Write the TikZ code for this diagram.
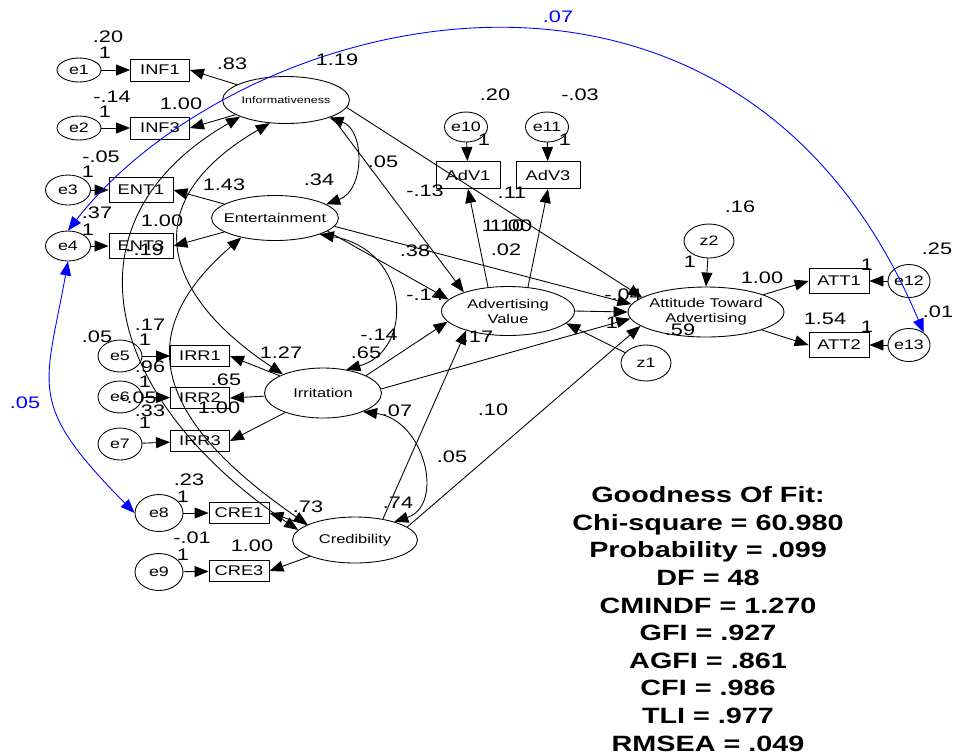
\documentclass[tikz,border=0pt]{standalone}
\usepackage{fontspec}
\setmainfont{Liberation Sans}[FakeStretch=1.3]
\usetikzlibrary{arrows.meta,shapes.geometric}
\begin{document}
\begin{tikzpicture}[x=0.02cm,y=-0.02cm,>={Triangle[length=2.8mm,width=2.2mm]},
  line width=0.5pt,line join=round,
  obs/.style={draw,rectangle,minimum width=1.18cm,minimum height=0.44cm,inner sep=0pt,font=\fontsize{8}{9}\selectfont},
  lat/.style={draw,ellipse,inner xsep=-0.2cm,inner ysep=0pt,align=center,font=\fontsize{7.2}{8.5}\selectfont},
  err/.style={draw,ellipse,minimum width=0.88cm,minimum height=0.6cm,inner sep=0pt,font=\fontsize{7.8}{9}\selectfont},
  est/.style={inner sep=0pt,font=\fontsize{9.5}{10}\selectfont},
  cov/.style={<->},
  bcov/.style={<->,blue}]
\useasboundingbox (0,0) rectangle (955,755);

% latent variables
\node[lat,minimum width=2.54cm,minimum height=0.94cm,font=\fontsize{5.5}{6}\selectfont] (inf) at (286,100) {Informativeness};
\node[lat,minimum width=2.54cm,minimum height=0.9cm] (ent) at (275,218) {Entertainment};
\node[lat,minimum width=2.34cm,minimum height=1cm] (irr) at (323,393) {Irritation};
\node[lat,minimum width=2.5cm,minimum height=0.92cm] (cred) at (355,540) {Credibility};
\node[lat,minimum width=2.66cm,minimum height=0.98cm] (adv) at (508,311) {Advertising\\Value};
\node[lat,minimum width=3.12cm,minimum height=1cm] (att) at (706,312) {Attitude Toward\\Advertising};

% indicators
\node[obs] (INF1) at (160,70) {INF1};
\node[obs] (INF3) at (160,128) {INF3};
\node[obs,minimum width=1.28cm,minimum height=0.5cm] (ENT1) at (141,190) {ENT1};
\node[obs,minimum width=1.28cm,minimum height=0.5cm] (ENT3) at (141,246) {ENT3};
\node[obs,minimum height=0.42cm] (IRR1) at (200,356) {IRR1};
\node[obs,minimum height=0.42cm] (IRR2) at (200,398) {IRR2};
\node[obs,minimum height=0.42cm] (IRR3) at (200,441) {IRR3};
\node[obs,minimum width=1.2cm,minimum height=0.42cm] (CRE1) at (239,513) {CRE1};
\node[obs,minimum width=1.2cm,minimum height=0.42cm] (CRE3) at (239,571) {CRE3};
\node[obs,minimum width=1.28cm,minimum height=0.54cm] (AdV1) at (468,175) {AdV1};
\node[obs,minimum width=1.28cm,minimum height=0.54cm] (AdV3) at (548,175) {AdV3};
\node[obs,minimum width=1.2cm,minimum height=0.5cm] (ATT1) at (839,281) {ATT1};
\node[obs,minimum width=1.2cm,minimum height=0.5cm] (ATT2) at (839,345) {ATT2};

% error terms
\node[err,minimum height=0.48cm] (e1) at (79,70) {e1};
\node[err,minimum height=0.48cm] (e2) at (79,128) {e2};
\node[err,minimum width=0.9cm] (e3) at (68,190) {e3};
\node[err,minimum width=0.9cm] (e4) at (68,246) {e4};
\node[err,minimum height=0.64cm] (e5) at (120,356) {e5};
\node[err,minimum height=0.64cm] (e6) at (120,397) {e6};
\node[err,minimum height=0.64cm] (e7) at (120,444) {e7};
\node[err,minimum width=0.96cm,minimum height=0.74cm] (e8) at (159,513) {e8};
\node[err,minimum width=0.96cm,minimum height=0.74cm] (e9) at (159,572) {e9};
\node[err,minimum width=0.86cm] (e10) at (466,127) {e10};
\node[err,minimum width=0.86cm] (e11) at (547,127) {e11};
\node[err,minimum width=0.84cm,minimum height=0.66cm] (e12) at (909,281) {e12};
\node[err,minimum width=0.84cm,minimum height=0.66cm] (e13) at (909,345) {e13};
\node[err,minimum width=1cm,minimum height=0.72cm] (z1) at (646,363) {z1};
\node[err,minimum width=1cm,minimum height=0.68cm] (z2) at (709,241) {z2};

% measurement part
\draw[->] (e1)--(INF1); \draw[->] (e2)--(INF3);
\draw[->] (e3)--(ENT1); \draw[->] (e4)--(ENT3);
\draw[->] (e5)--(IRR1); \draw[->] (e6)--(IRR2); \draw[->] (e7)--(IRR3);
\draw[->] (e8)--(CRE1); \draw[->] (e9)--(CRE3);
\draw[->] (e10)--(AdV1); \draw[->] (e11)--(AdV3);
\draw[->] (e12)--(ATT1); \draw[->] (e13)--(ATT2);
\draw[->] (inf)--(INF1.east); \draw[->] (inf)--(INF3.east);
\draw[->] (ent)--(ENT1.east); \draw[->] (ent)--(ENT3.east);
\draw[->] (irr)--(IRR1.east); \draw[->] (irr)--(IRR2.east); \draw[->] (irr)--(IRR3.east);
\draw[->] (cred)--(CRE1.east); \draw[->] (cred)--(CRE3.east);
\draw[->] (adv.130)--(AdV1.south); \draw[->] (adv.50)--(AdV3.south);
\draw[->] (att)--(ATT1.west); \draw[->] (att)--(ATT2.west);

% structural part
\draw[->] (inf.-20)--(adv.157);
\draw[->] (inf.-7)--(att.167);
\draw[->] (ent.-14)--(adv.169);
\draw[->] (ent.-8)--(att.174);
\draw[->] (irr.22)--(adv.190);
\draw[->] (irr.4)--(att.185);
\draw[->] (cred.37)--(adv.205);
\draw[->] (cred.14)--(att.192);
\draw[->] (adv.east)--(att.west);
\draw[->] (z1)--(adv.-12);
\draw[->] (z2)--(att.north);

% covariances
\draw[cov] (inf.-22) .. controls (365,130) and (365,190) .. (ent.15);
\draw[cov] (ent.-20) .. controls (410,250) and (415,350) .. (irr.45);
\draw[cov] (irr.-25) .. controls (425,420) and (445,505) .. (cred.25);
\draw[cov] (inf.200) .. controls (62,219) and (99,395) .. (cred.170);
\draw[cov] (inf.235) .. controls (131,204) and (166,297) .. (irr.155);
\draw[cov] (ent.210) .. controls (150,317) and (128,401) .. (cred.162);
\draw[bcov] (e4.north) .. controls (240,10) and (735,-117) .. (e13.40);
\draw[bcov] (e4.south) .. controls (45,389) and (26,403) .. (e8.west);

% estimates
\path (108,37) node[est] (ve1) {.20} (105,53) node[est] (fe1) {1}
  (232,64) node[est] (lINF1) {.83} (337,60) node[est] (vinf) {1.19}
  (112,97) node[est] (ve2) {-.14} (105,112) node[est] (fe2) {1}
  (181,104) node[est] (lINF3) {1.00};
\path (101,157) node[est] (ve3) {-.05} (88,172) node[est] (fe3) {1}
  (224,185) node[est] (lENT1) {1.43} (319,180) node[est] (cie) {.34}
  (97,213) node[est] (ve4) {.37} (88,230) node[est] (fe4) {1}
  (162,221) node[est] (lENT3) {1.00} (145,250) node[est] (vent) {-.19};
\path (97,337) node[est] (ve5) {.05} (150,325) node[est] (cic) {.17}
  (145,340) node[est] (fe5) {1} (150,367) node[est] (cii) {.96}
  (145,382) node[est] (fe6) {1} (138,398) node[est] (ve6) {-.05}
  (150,411) node[est] (cec) {.33} (145,423) node[est] (fe7) {1}
  (281,353) node[est] (lIRR1) {1.27} (226,380) node[est] (lIRR2) {.65}
  (219,408) node[est] (lIRR3) {1.00};
\path (189,480) node[est] (ve8) {.23} (183,497) node[est] (fe8) {1}
  (308,507) node[est] (lCRE1) {.73} (192,538) node[est] (ve9) {-.01}
  (183,555) node[est] (fe9) {1} (252,546) node[est] (lCRE3) {1.00}
  (398,503) node[est] (vcred) {.74};
\path (383,162) node[est] (bia) {.05} (425,295) node[est] (bea) {-.14}
  (415,251) node[est] (bet) {.38} (379,335) node[est] (cei) {-.14}
  (366,353) node[est] (virr) {.65} (397,411) node[est] (cir) {.07}
  (478,337) node[est] (bca) {.17} (493,410) node[est] (bct) {.10}
  (452,457) node[est] (bit) {.05};
\path (495,95) node[est] (ve10) {.20} (580,95) node[est] (ve11) {-.03}
  (484,140) node[est] (fe10) {1} (565,140) node[est] (fe11) {1}
  (425,191) node[est] (rAdV1) {-.13} (512,193) node[est] (rAdV3) {.11}
  (503,226) node[est] (lAdV3) {1.10} (511,226) node[est] (lAdV1) {1.00}
  (506,250) node[est] (rz1) {.02};
\path (623,295) node[est] (bint) {-.04} (612,323) node[est] (fz1) {1}
  (680,330) node[est] (ratt) {.59} (740,207) node[est] (vz2) {.16}
  (690,262) node[est] (fz2) {1} (762,278) node[est] (lATT1) {1.00}
  (937,249) node[est] (ve12) {.25} (867,265) node[est] (fe12) {1}
  (825,319) node[est] (lATT2) {1.54} (938,312) node[est] (ve13) {.01}
  (867,327) node[est] (fe13) {1};
\node[est,blue] (cee1) at (558,17) {.07};
\node[est,blue] (cee2) at (25,403) {.05};

% fit summary
\node[align=center,inner sep=0pt,font=\bfseries\fontsize{12.6}{15.7}\selectfont] (fit) at (708,619)
  {Goodness Of Fit:\\Chi-square = 60.980\\Probability = .099\\DF = 48\\CMINDF = 1.270\\
   GFI = .927\\AGFI = .861\\CFI = .986\\TLI = .977\\RMSEA = .049};
\end{tikzpicture}
\end{document}
